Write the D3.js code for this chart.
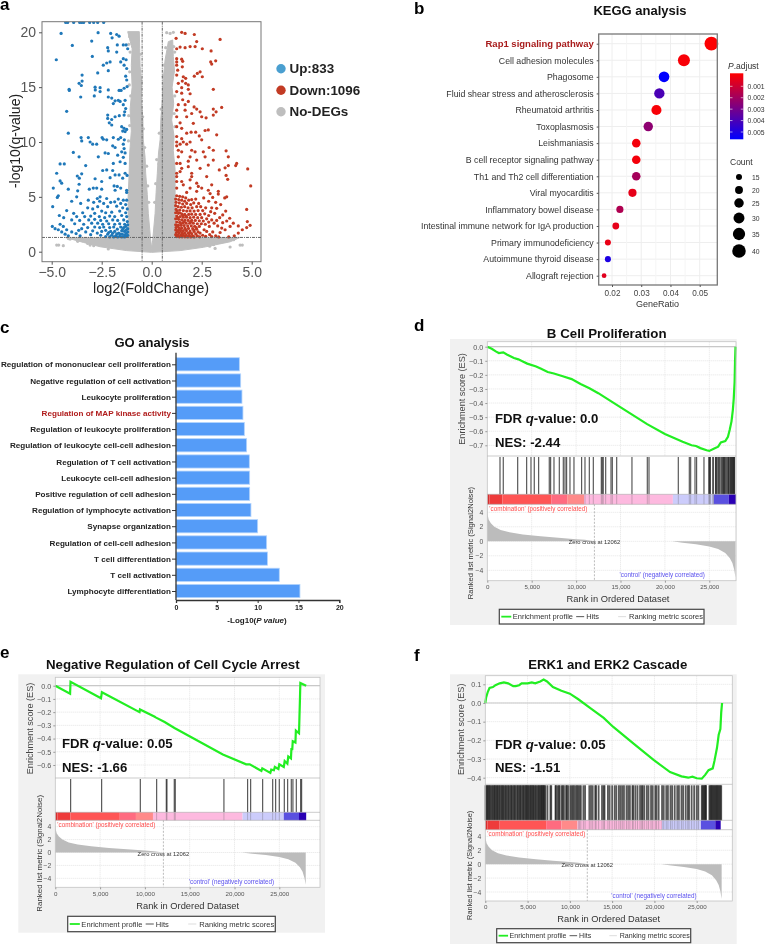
<!DOCTYPE html>
<html>
<head>
<meta charset="utf-8">
<title>Figure</title>
<style>
  body { margin: 0; background: #fff; }
  text { font-family: "Liberation Sans", Arial, sans-serif; }
  svg { filter: blur(0.35px); }
</style>
</head>
<body>
<div id="plot"></div>
<script src="https://cdn.jsdelivr.net/npm/d3@7"></script>
<script>
// a: volcano, values
const upPoints = [[-4.3,20.9],[-4.2,20.9],[-3.9,20.9],[-3.6,20.9],[-3.5,20.9],[-3.4,20.9],[-3.1,20.9],[-2.9,20.9],[-2.7,20.9],[-2.4,20.9],
[-4.53,19.9],[-2.68,19.97],[-2.05,19.9],[-1.75,19.8],[-1.63,19.65],[-1.98,19.5],[-3,19.2],[-3.97,18.8],[-2.2,18.6],[-1.72,18.85],[-1.42,18.85],[-1.28,18.85],[-1.2,18.5],[-1.75,18.2],[-2.17,18.3],[-2.97,17.8],[-4.77,17.5],[-1.42,17.6],[-1.28,17.5],[-1.55,17.3],[-2.08,17.3],[-2.42,17],[-2.25,17.2],[-1.38,17],[-1.25,16.7],[-2.17,16.5],[-2.7,16.3],[-3.48,16.1],[-1.3,16],[-1.25,15.65],[-3.48,15.55],[-3.63,15.35],[-3.52,15.15],[-2.83,15],[-2.58,14.95],[-4.13,14.8],[-4.12,14.7],[-2.17,14.75],[-2.82,14.75],[-2.58,14.6],[-1.63,14.7],[-1.53,14.7],[-1.38,14.9],[-1.23,15.05],[-2.87,14.2],[-3.55,14.1],[-2.17,14.1],[-2,14],[-1.67,13.8],[-1.83,13.75],[-1.58,13.7],[-1.33,13.8],[-1.92,13.5],[-1.42,13.4],[-1.3,13.05],[-1.35,12.75],[-4.25,12.8],[-2.2,12.45],[-1.83,12.3],[-1.62,12.4],[-1.38,12.45],[-2.2,12.15],[-2,12.05],[-2.12,11.75],[-2,11.55],[-1.5,11.4],[-1.38,11.25],[-1.25,11.15],[-1.45,11],[-1.33,10.95],[-4.17,10.8],[-3.53,10.4],[-3.17,10.4],[-2.48,10.4],[-1.92,10.4],[-1.55,10.4],[-3.5,10.1],[-3.08,10],[-2.42,10.25],[-2.25,10.2],[-1.67,10.25],[-1.37,10.2],[-2.95,9.8],[-2.75,9.8],[-1.95,9.65],[-1.83,9.5],[-1.42,9.8],[-1.38,9.4],[-3.92,9.05],[-2.33,9],[-2.17,8.95],[-1.5,9.1],[-1.33,9],[-3.63,8.65],[-2.67,8.65],[-1.7,8.8],[-1.42,8.6],[-4.58,8],[-4.37,8],[-3.3,7.85],[-1.92,8.05],[-1.58,8.2],[-1.33,8.05],[-2.25,7.45],[-2.45,7.4],[-1.95,7.4],[-4.75,7.15],[-3.5,7.1],[-3.72,6.9],[-1.83,7],[-1.63,7],[-1.33,7.15],[-1.23,6.95],[-3.62,6.7],[-2.83,6.65],[-2.08,6.75],[-1.45,6.7],[-4.58,6.45],[-4.5,6.25],[-2.5,6.4],[-3.63,6.15],[-1.88,6],[-1.72,5.95],[-1.55,5.8],[-4.92,5.8],[-4.17,5.7],[-3.7,5.55],[-3.12,5.7],[-2.92,5.8],[-2.75,5.8],[-2.5,5.7],[-1.83,5.6],[-1.25,5.6],[-1.25,5.4],[-4.67,5.1],[-4.72,4.95],[-2.58,5],[-2.72,4.85],[-4,4.6],[-3.75,5],[-3.17,4.7],[-2.25,4.85],[-1.67,4.8],[-1.42,4.7],[-1.25,4.7],
[-4.95,4.1],[-3.55,4.4],[-2.9,4.5],[-2.6,4.6],[-2.4,4.4],[-2.05,4.5],[-1.85,4.55],[-1.55,4.4],[-1.3,4.3],[-4.25,3.75],[-3.2,4],[-2.95,3.9],[-2.7,4.1],[-2.2,4.1],[-1.75,4.15],[-1.45,4],[-1.22,3.9],[-4.62,3.3],[-3.9,3.5],[-3.45,3.55],[-2.85,3.5],[-2.5,3.7],[-2.3,3.55],[-2,3.6],[-1.6,3.7],[-1.3,3.55],[-4.4,3.1],[-3.75,3.2],[-3.35,3.2],[-3.05,3.25],[-2.62,3.2],[-2.35,3.1],[-2.1,3.25],[-1.85,3.2],[-1.5,3.3],[-1.25,3.2],[-4,2.9],[-3.6,2.85],[-3.15,2.9],[-2.85,2.95],[-2.55,2.85],[-2.25,2.8],[-1.95,2.9],[-1.7,2.85],[-1.4,2.9],[-1.22,2.75],[-3.85,2.55],[-3.4,2.5],[-3,2.6],[-2.7,2.6],[-2.45,2.5],[-2.15,2.55],[-1.85,2.5],[-1.6,2.55],[-1.35,2.5],[-1.2,2.45],
[-4.97,2.3],[-4.83,2.1],[-4.67,2],[-4.5,1.8],[-4.33,1.6],[-4.17,1.45],[-4.58,2.5],[-4.42,2.3],[-4.25,2],[-4,1.8],[-3.78,1.65],[-3.58,1.45],[-3.5,2.1],[-3.65,1.95],[-3.2,2.2],[-3.3,1.8],[-3.05,1.55],[-2.85,2.25],[-2.95,1.9],[-2.72,1.7],[-2.6,2.2],[-2.4,2.25],[-2.5,1.85],[-2.55,1.5],[-2.3,1.95],[-2.2,1.6],[-2.1,2.2],[-2.05,1.85],[-2,1.5],[-1.9,2.25],[-1.85,1.85],[-1.8,1.45],[-1.72,2.05],[-1.65,1.7],[-1.6,1.4],[-1.55,2.25],[-1.5,1.9],[-1.47,1.6],[-1.42,1.38],[-1.4,2.2],[-1.36,1.85],[-1.33,1.55],[-1.3,2.3],[-1.28,2],[-1.26,1.7],[-1.24,1.42],[-1.2,2.1],[-1.2,1.8],[-1.2,1.5],[-1.35,1.35],[-1.5,1.35],[-1.7,1.35],[-1.9,1.35],[-2.1,1.35],[-2.3,1.38],[-1.45,2.05],[-1.58,1.6],[-1.75,1.62],[-1.95,1.68],[-2.15,1.75]];
const downPoints = [[1.5,20],[1.67,19.9],[2.13,19.8],[1.22,19.45],[3.42,19.35],[2.25,19.15],[1.92,18.7],[2.17,18.7],[2.53,18.5],[2.97,18.3],[1.42,18.65],[1.25,18.5],[1.67,18.6],[1.25,17.6],[1.5,17.55],[1.55,17.35],[1.25,17.3],[3.2,17.4],[2.95,17.3],[3,17.1],[1.25,17],[1.53,16.85],[1.3,16.55],[2.42,16.4],[2.28,16.25],[2.13,16],[2.53,15.95],[1.25,16.1],[1.58,15.95],[1.7,15.8],[1.53,15.55],[1.7,15.35],[1.33,15.35],[1.83,15.2],[1.5,14.95],[1.83,14.8],[3.08,14.8],[1.25,14.6],[1.5,14.45],[1.92,14.4],[1.55,13.85],[1.83,13.7],[1.33,13.4],[1.67,13.4],[2.12,13.2],[2.25,13],[2.42,12.75],[3.5,13.15],[3.08,13],[3.22,12.75],[3.08,12.45],[1.25,12.9],[1.67,12.9],[1.25,12.3],[2,12.6],[2.5,12.3],[2.72,12.2],[1.75,12.3],[1.42,11.75],[2.08,11.7],[1.5,11.25],[2.83,11.1],[2.67,11.05],[1.25,11.4],[1.75,10.8],[1.97,10.9],[2.2,10.9],[2.38,10.55],[3.25,10.65],[1.25,10.5],[1.5,10.3],[2.5,10.2],[1.25,10],[1.58,10],[1.92,10],[1.25,9.65],[1.42,9.8],[1.75,9.8],[2.87,9.5],[3.08,9.25],[3.72,9.2],[2,9.25],[2.17,9.1],[1.33,9.25],[1.5,9.1],[2.58,9.1],[2.67,8.65],[3.83,8.65],[1.33,8.65],[1.92,8.65],[1.83,8.25],[2.25,8.35],[3.08,8.35],[1.25,8.05],[1.42,8.05],[4.25,8.05],[4.2,7.85],[3.83,7.85],[3.67,7.65],[3.38,7.45],[2.83,7.9],[2.42,7.6],[4.8,7.55],[1.83,7.75],[1.5,7.6],[1.25,7.15],[1.42,7.3],[2,7.15],[2,6.85],[2.75,6.85],[3.72,6.95],[3.8,6.6],[1.25,6.85],[1.5,6.4],[1.25,6.4],[1.92,6.55],[2.25,6.25],[4.95,6],[3,6.1],[1.58,6.1],[2.33,5.95],[2.5,5.8],[1.92,5.8],[2.83,5.6],[1.25,5.8],[3.33,5.5],[3.33,5.25],[2.92,5.3],[1.75,5.4],[2.25,5.5],
[1.25,5.1],[1.4,5.05],[1.55,5],[1.7,4.9],[1.2,4.8],[1.35,4.75],[1.5,4.7],[1.65,4.6],[1.85,4.7],[2,4.75],[2.2,4.8],[2.6,4.9],[3.05,4.95],[3.75,5],[3.65,4.9],[1.22,4.5],[1.38,4.45],[1.55,4.35],[1.75,4.4],[1.95,4.3],[2.1,4.45],[2.35,4.4],[2.85,4.6],[3.2,4.5],[3.45,4.3],[1.2,4.2],[1.32,4.1],[1.48,4.05],[1.65,4.1],[1.82,4],[2.02,4],[2.25,4.1],[2.45,4.1],[2.7,4],[3,4],[3.25,3.95],[3.7,3.7],[4.75,3.85],[1.22,3.85],[1.4,3.8],[1.58,3.75],[1.75,3.7],[1.92,3.72],[2.12,3.7],[2.32,3.75],[2.55,3.75],[2.95,3.65],[3.15,3.5],[3.55,3.35],[1.2,3.55],[1.33,3.5],[1.5,3.45],[1.65,3.4],[1.85,3.4],[2,3.42],[2.2,3.4],[2.42,3.4],[2.65,3.45],[2.85,3.3],[3.4,3.1],[3.9,3.05],[1.25,3.25],[1.42,3.2],[1.58,3.15],[1.75,3.15],[1.92,3.1],[2.1,3.15],[2.3,3.1],[2.5,3.1],[2.75,3],[3,2.9],[3.25,2.85],[3.75,2.8],[1.2,3],[1.35,2.95],[1.5,2.9],[1.66,2.88],[1.82,2.85],[2,2.85],[2.18,2.85],[2.38,2.82],[2.58,2.8],[2.85,2.7],[3.55,2.65],[4.78,2.75],[4.33,2.35],[4.08,2.6],[1.25,2.7],[1.4,2.68],[1.55,2.62],[1.72,2.6],[1.9,2.6],[2.08,2.6],[2.28,2.55],[2.48,2.55],[2.68,2.5],[3.12,2.6],[1.2,2.45],[1.33,2.42],[1.47,2.4],[1.62,2.38],[1.8,2.35],[1.98,2.35],[2.15,2.32],[2.38,2.3],[2.88,2.3],[3.92,2.3],[3.3,2.35],
[1.22,2.2],[1.36,2.18],[1.5,2.15],[1.66,2.15],[1.84,2.12],[2.05,2.1],[2.25,2.05],[2.62,2],[3.67,2],[3.5,2.15],[1.2,1.98],[1.32,1.95],[1.44,1.92],[1.58,1.92],[1.74,1.9],[1.92,1.88],[2.12,1.85],[2.32,1.8],[2.75,1.85],[1.24,1.75],[1.36,1.72],[1.5,1.72],[1.65,1.7],[1.82,1.68],[2,1.65],[2.2,1.62],[2.42,1.7],[3.42,1.75],[3.05,1.8],[1.2,1.55],[1.32,1.52],[1.45,1.52],[1.58,1.5],[1.72,1.5],[1.88,1.48],[2.05,1.45],[2.28,1.45],[2.55,1.5],[3.2,1.45],[2.9,1.55],[1.25,1.38],[1.38,1.36],[1.52,1.36],[1.66,1.36],[1.8,1.35],[1.95,1.35],[2.12,1.35],[2.4,1.36],[2.7,1.4],
[4.92,2.4],[4.75,2.2],[4.53,2],[4.33,1.7],[4.13,1.45],[3.85,1.35],[3.35,1.35],[3,1.38],[1.3,1.85],[1.42,2.05],[1.56,1.62],[1.7,2.02],[1.9,1.75],[1.28,2.32],[1.46,2.55],[1.62,2.75],[1.3,3.1],[1.55,3.3],[1.4,3.55],[1.28,3.7],[1.72,3.25],[1.95,2.72],[2.22,2.2],[2.1,1.98]];
const noDegCloud = [[-1.2,20.06],[-0.62,20.06],[-0.6,18.5],[-0.58,16.9],[-0.5,15.4],[-0.52,13.8],[-0.44,12],[-0.42,10.2],[-0.33,8.6],[-0.3,7.15],[-0.22,5.2],[-0.17,3.5],[-0.05,1.06],[0,0.3],[0.05,1.06],[0.17,3.5],[0.22,5.4],[0.28,7.15],[0.34,9],[0.42,10.2],[0.46,12.2],[0.53,13.8],[0.58,15.8],[0.67,17.5],[0.78,18.6],[0.83,19.15],[1.05,19.3],[1.08,17.8],[1.14,16.5],[1.02,15],[1.1,13.5],[1.0,12],[1.12,10.5],[1.08,9.2],[1.17,7.5],[1.17,1.3],[4.42,1.3],[3.92,0.9],[2.58,0.4],[1.42,0.1],[0,-0.06],[-1.25,0.1],[-2.58,0.45],[-3.42,0.85],[-4.33,1.3],[-1.17,1.3],[-1.18,5],[-1.13,7],[-1.1,9],[-1.02,11],[-1.08,13],[-0.98,15],[-1.02,17],[-0.98,18.5]];
const noDegPoints = [[-4.75,0.6],[-4.65,0.6],[-4.42,0.55],[-2.17,0.25],[3.17,0.3],[3.92,0.43],[4.42,0.6],[4.53,0.6],[-4.08,1.15],[-4.17,1.2],[-3.08,0.6],[0.75,19.97],[1.08,20],[0.92,19.9],[-1.1,19.6],[-1.15,18.9],[-1.08,18.2],[-0.7,11],[-0.35,9.5],[-0.2,6],[0.38,10.8],[0.25,8.4],[0.58,16],[-0.45,12.3],[-0.53,15.5],[0.6,14.9],[0.7,18.6],[4.1,1.1],[3.4,0.85],[-1.1,16.4],[-1.12,15.2],[-1.05,14.2],[-1.15,12.4],[-1.1,11.5],[-1.16,10.1],[1.1,18.7],[1.15,18.2],[1.15,14.2],[1.12,12.6],[1.16,11.4],[-0.55,14.5],[-0.58,18],[-0.42,11.2],[0.36,8],[0.5,11.4],[0.47,13],[0.62,17],[0.2,6.2],[0.15,4.5],[-0.15,4.5],[-0.25,7.8],[-3.7,0.95],[-3.2,0.75],[-2.9,0.55],[3.1,0.65],[3.65,0.95],[2.9,0.5]];
const xTicksA = [-5, -2.5, 0, 2.5, 5];
const yTicksA = [0, 5, 10, 15, 20];
const legendA = [['Up:833', '#4a9fd0'], ['Down:1096', '#c23b24'], ['No-DEGs', '#bebebe']];

// b: KEGG dots
const keggTerms = ['Rap1 signaling pathway','Cell adhesion molecules','Phagosome','Fluid shear stress and atherosclerosis','Rheumatoid arthritis','Toxoplasmosis','Leishmaniasis','B cell receptor signaling pathway','Th1 and Th2 cell differentiation','Viral myocarditis','Inflammatory bowel disease','Intestinal immune network for IgA production','Primary immunodeficiency','Autoimmune thyroid disease','Allograft rejection'];
const keggRatio = [0.054,0.0446,0.0378,0.0362,0.0352,0.0324,0.0283,0.0283,0.0283,0.027,0.0227,0.0213,0.0186,0.0186,0.0173];
const keggCount = [41,34,29,28,27,25,22,22,22,21,18,17,15,15,12];
const keggPadj = [0.0001,0.0002,0.0056,0.004,0.0002,0.0025,0.0003,0.0003,0.002,0.0006,0.0018,0.0006,0.0005,0.005,0.0007];
const padjTicks = [0.001,0.002,0.003,0.004,0.005];
const countTicks = [15,20,25,30,35,40];

// c: GO bars
const goTerms = ['Regulation of mononuclear cell proliferation','Negative regulation of cell activation','Leukocyte proliferation','Regulation of MAP kinase activity','Regulation of leukocyte proliferation','Regulation of leukocyte cell-cell adhesion','Regulation of T cell activation','Leukocyte cell-cell adhesion','Positive regulation of cell adhesion','Regulation of lymphocyte activation','Synapse organization','Regulation of cell-cell adhesion','T cell differentiation','T cell activation','Lymphocyte differentiation'];
const goValues = [7.76,7.92,8.08,8.2,8.37,8.65,8.98,9.02,9.02,9.18,10,11.1,11.2,12.65,15.18];

// d, e, f: GSEA panels
const esD = [[0,0],[500,-0.015],[1000,-0.035],[1300,-0.045],[1800,-0.04],[2200,-0.055],[3000,-0.08],[3500,-0.09],[4000,-0.105],[4500,-0.12],[5500,-0.14],[6000,-0.155],[6800,-0.18],[7500,-0.19],[8500,-0.21],[9500,-0.23],[10500,-0.265],[11500,-0.295],[12500,-0.33],[14000,-0.39],[16000,-0.47],[18000,-0.55],[20000,-0.62],[22000,-0.675],[23000,-0.7],[23500,-0.705],[24000,-0.72],[24700,-0.735],[25000,-0.74],[25500,-0.725],[26000,-0.71],[26300,-0.68],[26800,-0.67],[27100,-0.64],[27300,-0.59],[27500,-0.53],[27650,-0.45],[27750,-0.37],[27850,-0.25],[27900,-0.1],[27950,0]];
const esE = [[0,0],[1650,-0.06],[1700,0.03],[5100,-0.095],[5200,-0.05],[9400,-0.2],[9450,-0.18],[11100,-0.235],[11200,-0.24],[12200,-0.275],[13300,-0.32],[18700,-0.52],[21300,-0.595],[21700,-0.595],[23000,-0.645],[23100,-0.625],[24000,-0.66],[24100,-0.635],[24400,-0.64],[24500,-0.615],[24900,-0.63],[25000,-0.595],[25500,-0.615],[25600,-0.57],[25900,-0.59],[26000,-0.535],[26300,-0.55],[26350,-0.48],[26450,-0.48],[26500,-0.42],[26800,-0.43],[26850,-0.34],[27200,-0.36],[27250,-0.235],[27300,-0.115],[27350,0.02],[28000,0]];
const esF = [[0,0],[100,0.03],[300,0.06],[500,0.08],[900,0.085],[1200,0.095],[1700,0.105],[2200,0.11],[2700,0.105],[3300,0.09],[3600,0.09],[4000,0.095],[4300,0.105],[5000,0.105],[5500,0.11],[5900,0.105],[6500,0.115],[6900,0.125],[7300,0.115],[8000,0.085],[9000,0.065],[10000,0.05],[11000,0.02],[12500,-0.03],[14000,-0.08],[15100,-0.127],[17500,-0.216],[19900,-0.305],[21850,-0.37],[23200,-0.393],[24000,-0.4],[24500,-0.395],[25000,-0.403],[25600,-0.405],[26000,-0.385],[26400,-0.36],[26900,-0.35],[27100,-0.31],[27400,-0.24],[27600,-0.17],[27800,-0.14],[27900,-0.05],[28000,0]];
const hitsD = [1430,1800,3420,4430,4920,5290,5780,6980,7130,7510,8110,8560,8750,8930,9310,9760,10620,11000,11490,11940,12840,12950,13060,13330,13930,14080,14570,16290,18020,18210,21510,22750,22900,23390,23570,24400,24950,25000,25060,25120,25400,25450,25700,25750,25800,25950,26050,26150,26300,26400,26500,26600,26650,26700,26800,26900,27000,27100,27150,27200,27300,27400,27450,27500,27600,27650,27700,27750,27800,27850];
const hitsE = [1710,5170,9490,11310,12390,12460,13280,13390,18820,21460,21800,23140,24260,24590,25000,25560,25930,26340,26520,26900,27380,27490];
const hitsF = [30,120,240,300,420,520,600,760,850,980,1080,1150,1290,1400,1470,1620,1700,1850,1960,2080,2150,2300,2420,2500,2680,2750,2900,3050,3110,3260,3400,3480,3620,3780,3860,4000,4120,4200,4350,4480,4560,4700,4820,4900,5000,5080,5200,5320,5400,5520,5650,5700,5850,5950,6050,6200,6300,6380,6500,6600,6680,6760,6840,6920,7000,7100,7350,7700,7800,8300,8350,8550,8700,8800,9050,9150,9300,9550,9650,9800,10050,10200,10350,10500,10700,10850,11000,11150,11300,11600,11800,12300,12500,12700,13000,13100,13400,13800,14000,14100,14500,14700,15000,15300,15500,15800,16000,16200,16400,16700,16900,17100,17400,17500,17750,18000,18300,18500,18600,18800,19100,19300,19600,19800,20100,20250,20500,20900,21100,21400,21600,21900,22100,22400,22700,22900,23200,23400,23700,23950,24100,24400,24700,25000,25200,25600,25700,25800,25900,26000,26050,26100,26500,26600,26700,26800,26900,27000,27100,27200,27300,27400,27500,27600,27700,27800,27900];
const metricPos = [[0,4.6],[50,3.6],[150,3],[400,2.5],[800,2],[1500,1.55],[2500,1.25],[4000,0.95],[6000,0.7],[8000,0.5],[10000,0.3],[11000,0.2],[12062,0]];
const metricNeg = [[20800,0],[22000,-0.2],[23500,-0.4],[25000,-0.7],[26000,-1.05],[26800,-1.6],[27300,-2.3],[27600,-3],[27800,-3.9],[27950,-5]];
const bandStops = [[0,250,'#d62f2f'],[250,1700,'#ee3b3b'],[1700,7200,'#ff5555'],[7200,9000,'#ff6b80'],[9000,10900,'#ff8a8a'],[10900,20900,'#fdb9df'],[20900,25500,'#ccccfb'],[25500,27200,'#5a50e0'],[27200,28000,'#2a00b4']];
const rankTicks = [0,5000,10000,15000,20000,25000];
const metricTicks = [4,2,0,-2,-4];

const svg = d3.select('#plot').append('svg').attr('width', 766).attr('height', 944);
const defs = svg.append('defs');

function panelLetter(s, x, y) {
  svg.append('text').attr('x', x).attr('y', y).attr('font-size', 17).attr('font-weight', 'bold').text(s);
}
function title(s, cx, y, size) {
  svg.append('text').attr('x', cx).attr('y', y).attr('text-anchor', 'middle').attr('font-size', size).attr('font-weight', 'bold').attr('fill', '#111').text(s);
}

panelLetter('a', 0, 10);
panelLetter('b', 414, 14);
panelLetter('c', 0, 333);
panelLetter('d', 414, 331);
panelLetter('e', 0, 658);
panelLetter('f', 414, 661);

// ---- panel a
{
  const x = d3.scaleLinear().domain([-5, 5]).range([51.7, 251.7]);
  const y = d3.scaleLinear().domain([0, 20]).range([251.7, 32.3]);
  defs.append('clipPath').attr('id', 'clipA').append('rect').attr('x', 42).attr('y', 21.7).attr('width', 219).attr('height', 240);
  const g = svg.append('g');
  const pts = g.append('g').attr('clip-path', 'url(#clipA)');
  pts.append('path').attr('d', d3.line().x(d => x(d[0])).y(d => y(d[1])).curve(d3.curveLinearClosed)(noDegCloud))
    .attr('fill', '#bebebe').attr('stroke', '#bebebe').attr('stroke-width', 1);
  const dots = (data, color) => pts.append('g').selectAll('circle').data(data).join('circle')
    .attr('cx', d => x(d[0])).attr('cy', d => y(d[1])).attr('r', 1.6).attr('fill', color);
  dots(noDegPoints, '#bebebe');
  dots(upPoints, '#1f78b9');
  dots(downPoints, '#c23b24');
  [-0.48, 0.53].forEach(v => g.append('line').attr('x1', x(v)).attr('x2', x(v)).attr('y1', 21.7).attr('y2', 261.7)
    .attr('stroke', '#666').attr('stroke-dasharray', '3 1 1 1'));
  g.append('line').attr('x1', 42).attr('x2', 261).attr('y1', y(1.3)).attr('y2', y(1.3)).attr('stroke', '#666').attr('stroke-dasharray', '3 1 1 1');
  g.append('rect').attr('x', 42).attr('y', 21.7).attr('width', 219).attr('height', 240).attr('fill', 'none').attr('stroke', '#777').attr('stroke-width', 1);
  const ax = g.append('g').attr('transform', 'translate(0,261.7)').call(d3.axisBottom(x).tickValues(xTicksA).tickFormat(d3.format('.1f')).tickSize(3).tickPadding(2));
  const ay = g.append('g').attr('transform', 'translate(42,0)').call(d3.axisLeft(y).tickValues(yTicksA).tickSize(3));
  [ax, ay].forEach(a => {
    a.select('.domain').remove();
    a.selectAll('line').attr('stroke', '#555');
    a.selectAll('text').attr('font-family', 'Liberation Sans').attr('font-size', 14).attr('fill', '#555');
  });
  g.append('text').attr('x', 151).attr('y', 293).attr('text-anchor', 'middle').attr('font-size', 14.5).attr('fill', '#222').text('log2(FoldChange)');
  g.append('text').attr('transform', 'translate(20,141) rotate(-90)').attr('text-anchor', 'middle').attr('font-size', 14).attr('fill', '#222').text('-log10(q-value)');
  const ly = d3.scalePoint().domain(legendA.map(d => d[0])).range([68.7, 111.7]);
  legendA.forEach(d => {
    g.append('circle').attr('cx', 281).attr('cy', ly(d[0])).attr('r', 4.7).attr('fill', d[1]);
    g.append('text').attr('x', 289.5).attr('y', ly(d[0]) + 4.6).attr('font-size', 13.4).attr('font-weight', 'bold').attr('fill', '#222').text(d[0]);
  });
}

// ---- panel b
{
  title('KEGG analysis', 640, 15, 13);
  const x = d3.scaleLinear().domain([0.02, 0.05]).range([612, 699.7]);
  const y = d3.scalePoint().domain(keggTerms).range([43.7, 275.7]);
  const r = d3.scalePow().exponent(0.5).domain([13, 41]).range([2.6, 6.9]);
  const c = d3.scaleLinear().domain([0.00005, 0.0056]).range(['#ff0000', '#0000ff']);
  const g = svg.append('g');
  g.selectAll('.gy').data(keggTerms).join('line').attr('x1', 598.7).attr('x2', 717.3).attr('y1', d => y(d)).attr('y2', d => y(d)).attr('stroke', '#eee');
  g.selectAll('.gx').data([0.02,0.03,0.04,0.05]).join('line').attr('x1', d => x(d)).attr('x2', d => x(d)).attr('y1', 34).attr('y2', 285).attr('stroke', '#eee');
  g.selectAll('.gm').data([0.025,0.035,0.045]).join('line').attr('x1', d => x(d)).attr('x2', d => x(d)).attr('y1', 34).attr('y2', 285).attr('stroke', '#f5f5f5');
  g.selectAll('circle').data(keggTerms).join('circle')
    .attr('cx', (d, i) => x(keggRatio[i])).attr('cy', d => y(d)).attr('r', (d, i) => r(keggCount[i])).attr('fill', (d, i) => c(keggPadj[i]));
  g.append('rect').attr('x', 598.7).attr('y', 34).attr('width', 118.6).attr('height', 251).attr('fill', 'none').attr('stroke', '#777').attr('stroke-width', 1.3);
  const ay = g.append('g').attr('transform', 'translate(598.7,0)').call(d3.axisLeft(y).tickSize(2));
  ay.select('.domain').remove();
  ay.selectAll('line').attr('stroke', '#555');
  ay.selectAll('text').attr('font-family', 'Liberation Sans').attr('font-size', (d, i) => i === 0 ? 9.5 : 8.75).attr('fill', (d, i) => i === 0 ? '#a81c1c' : '#333').attr('font-weight', (d, i) => i === 0 ? 'bold' : 'normal');
  const ax = g.append('g').attr('transform', 'translate(0,285)').call(d3.axisBottom(x).tickValues([0.02,0.03,0.04,0.05]).tickFormat(d3.format('.2f')).tickSize(2));
  ax.select('.domain').remove();
  ax.selectAll('line').attr('stroke', '#555');
  ax.selectAll('text').attr('font-family', 'Liberation Sans').attr('font-size', 8.2).attr('fill', '#444');
  g.append('text').attr('x', 657.5).attr('y', 307).attr('text-anchor', 'middle').attr('font-size', 9).attr('fill', '#333').text('GeneRatio');

  // colour bar
  const grad = defs.append('linearGradient').attr('id', 'padj').attr('x1', 0).attr('x2', 0).attr('y1', 0).attr('y2', 1);
  grad.append('stop').attr('offset', 0).attr('stop-color', '#ff0000');
  grad.append('stop').attr('offset', 1).attr('stop-color', '#0000ff');
  const t = g.append('text').attr('x', 728).attr('y', 69).attr('font-size', 8.5).attr('fill', '#333');
  t.append('tspan').attr('font-style', 'italic').text('P');
  t.append('tspan').text('.adjust');
  g.append('rect').attr('x', 730).attr('y', 73.3).attr('width', 13.3).attr('height', 66).attr('fill', 'url(#padj)');
  const py = d3.scaleLinear().domain([0.001, 0.005]).range([86.3, 132]);
  padjTicks.forEach(v => {
    g.append('line').attr('x1', 730).attr('x2', 732.5).attr('y1', py(v)).attr('y2', py(v)).attr('stroke', '#fff').attr('stroke-width', 0.6);
    g.append('line').attr('x1', 740.8).attr('x2', 743.3).attr('y1', py(v)).attr('y2', py(v)).attr('stroke', '#fff').attr('stroke-width', 0.6);
    g.append('text').attr('x', 747.5).attr('y', py(v) + 2.5).attr('font-size', 6.8).attr('fill', '#333').text(d3.format('.3f')(v));
  });
  g.append('text').attr('x', 730).attr('y', 165).attr('font-size', 8.5).attr('fill', '#333').text('Count');
  const cy = d3.scaleOrdinal().domain(countTicks).range([177, 190, 203, 218, 234, 251]);
  countTicks.forEach(v => {
    g.append('circle').attr('cx', 739).attr('cy', cy(v)).attr('r', r(v)).attr('fill', '#000');
    g.append('text').attr('x', 752).attr('y', cy(v) + 2.5).attr('font-size', 6.8).attr('fill', '#333').text(v);
  });
}

// ---- panel c
{
  title('GO analysis', 152, 347, 13);
  const x = d3.scaleLinear().domain([0, 20]).range([176, 339.3]);
  const y = d3.scalePoint().domain(goTerms).range([364.3, 591]);
  const g = svg.append('g');
  g.selectAll('rect').data(goTerms).join('rect')
    .attr('x', x(0)).attr('y', d => y(d) - 6.6).attr('height', 13.2).attr('width', (d, i) => x(goValues[i]) - x(0))
    .attr('fill', '#559cf8').attr('stroke', '#b5d5fd').attr('stroke-width', 0.8);
  const ay = g.append('g').attr('transform', 'translate(176,0)').call(d3.axisLeft(y).tickSize(4).tickPadding(1));
  ay.select('.domain').attr('d', 'M0,352.7V600').attr('stroke', '#333').attr('stroke-width', 1.3);
  ay.selectAll('line').attr('stroke', '#333').attr('stroke-width', 1);
  ay.selectAll('text').attr('font-family', 'Liberation Sans').attr('font-size', 8.1).attr('font-weight', 'bold').attr('fill', (d, i) => i === 3 ? '#b01c1c' : '#222');
  const ax = g.append('g').attr('transform', 'translate(0,600)').call(d3.axisBottom(x).tickValues([0,5,10,15,20]).tickSize(3).tickPadding(2));
  ax.select('.domain').attr('stroke', '#333').attr('stroke-width', 1.3);
  ax.selectAll('line').attr('stroke', '#333');
  ax.selectAll('text').attr('font-family', 'Liberation Sans').attr('font-size', 7).attr('font-weight', 'bold').attr('fill', '#222');
  const t = g.append('text').attr('x', 257).attr('y', 622.7).attr('text-anchor', 'middle').attr('font-size', 8).attr('font-weight', 'bold').attr('fill', '#222');
  t.append('tspan').text('-Log10(');
  t.append('tspan').attr('font-style', 'italic').text('P value');
  t.append('tspan').text(')');
}

// ---- panels d, e, f
function gsea(o) {
  const g = svg.append('g');
  g.append('rect').attr('x', o.bg[0]).attr('y', o.bg[1]).attr('width', o.bg[2] - o.bg[0]).attr('height', o.bg[3] - o.bg[1]).attr('fill', '#f1f1f1');
  const L = o.left, R = o.right;
  g.append('rect').attr('x', L).attr('y', o.top).attr('width', R - L).attr('height', o.rankBottom - o.top).attr('fill', '#fff');
  const x = d3.scaleLinear().domain([0, 25000]).range([L, o.x25k]);
  const es = d3.scaleLinear().domain(o.esRef).range(o.esPix);
  const m = d3.scaleLinear().domain([4, -4]).range(o.metricPix);

  // grids
  const grid = (vals, f, y1, y2) => vals.forEach(v => {
    if (f === 'x') g.append('line').attr('x1', x(v)).attr('x2', x(v)).attr('y1', y1).attr('y2', y2).attr('stroke', '#e4e4e4').attr('stroke-dasharray', '1 1');
    else g.append('line').attr('x1', L).attr('x2', R).attr('y1', v).attr('y2', v).attr('stroke', '#e4e4e4').attr('stroke-dasharray', '1 1');
  });
  grid(rankTicks.slice(1), 'x', o.top, o.esBottom);
  grid(rankTicks.slice(1), 'x', o.bandBottom, o.rankBottom);
  grid(o.esTicks.map(es), 'y');
  grid(metricTicks.map(m), 'y');

  // enrichment curve
  g.append('line').attr('x1', L).attr('x2', R).attr('y1', es(0)).attr('y2', es(0)).attr('stroke', '#c8c8c8').attr('stroke-width', 1.2);
  g.append('path').attr('d', d3.line().x(d => x(d[0])).y(d => es(d[1]))(o.esData)).attr('fill', 'none').attr('stroke', '#22ee22').attr('stroke-width', 2.2);

  // hits
  g.selectAll('.hit').data(o.hits).join('line').attr('x1', d => x(d)).attr('x2', d => x(d)).attr('y1', o.esBottom + 1).attr('y2', o.hitBottom)
    .attr('stroke', '#222').attr('stroke-width', o.hitWidth).attr('stroke-opacity', o.hitOpacity);

  // colour band
  g.selectAll('.band').data(bandStops).join('rect').attr('x', d => x(d[0])).attr('width', d => Math.min(x(d[1]), o.bandEnd) - x(d[0])).attr('y', o.hitBottom).attr('height', o.bandBottom - o.hitBottom).attr('fill', d => d[2]);
  g.selectAll('.hit2').data(o.hits.filter(d => d > 10900 && d < 25500)).join('line').attr('x1', d => x(d)).attr('x2', d => x(d)).attr('y1', o.hitBottom).attr('y2', o.bandBottom).attr('stroke', '#555').attr('stroke-opacity', 0.3);

  // metric area
  const area = d3.area().x(d => x(d[0])).y0(m(0)).y1(d => m(d[1]));
  g.append('path').attr('d', area(metricPos)).attr('fill', '#bcbcbc');
  g.append('path').attr('d', area(metricNeg)).attr('fill', '#bcbcbc');
  g.append('line').attr('x1', x(12062)).attr('x2', x(12062)).attr('y1', o.bandBottom).attr('y2', o.rankBottom).attr('stroke', '#bbb').attr('stroke-dasharray', '2 1.5');
  g.append('text').attr('x', x(12062)).attr('y', m(0) + 3).attr('text-anchor', 'middle').attr('font-size', 5.8).attr('fill', '#333').text('Zero cross at 12062');
  g.append('text').attr('x', L + 2).attr('y', o.bandBottom + 6.5).attr('font-size', 6.3).attr('fill', '#ff4d4d').text("'combination' (positively correlated)");
  g.append('text').attr('x', x(14900)).attr('y', o.rankBottom - 3.5).attr('font-size', 6.3).attr('fill', '#5a50ee').text("'control' (negatively correlated)");

  // frames
  g.append('rect').attr('x', L).attr('y', o.top).attr('width', R - L).attr('height', o.rankBottom - o.top).attr('fill', 'none').attr('stroke', '#c4c4c4').attr('stroke-width', 0.8);
  [o.esBottom, o.hitBottom, o.bandBottom].forEach(v => g.append('line').attr('x1', L).attr('x2', R).attr('y1', v).attr('y2', v).attr('stroke', '#aaa').attr('stroke-width', 0.6));

  // axes
  const ay = g.append('g').attr('transform', `translate(${L},0)`).call(d3.axisLeft(es).tickValues(o.esTicks).tickFormat(d3.format('.1f')).tickSize(2).tickPadding(2));
  const my = g.append('g').attr('transform', `translate(${L},0)`).call(d3.axisLeft(m).tickValues(metricTicks).tickFormat(d3.format('d')).tickSize(0).tickPadding(4));
  const ax = g.append('g').attr('transform', `translate(0,${o.rankBottom})`).call(d3.axisBottom(x).tickValues(rankTicks).tickFormat(d3.format(',')).tickSize(2).tickPadding(2));
  [ay, my, ax].forEach(a => {
    a.select('.domain').remove();
    a.selectAll('line').attr('stroke', '#999');
    a.selectAll('text').attr('font-family', 'Liberation Sans').attr('fill', '#555').attr('font-size', 6.2);
  });
  ay.selectAll('text').attr('font-size', 7.2);
  my.selectAll('text').attr('font-size', 6.8);
  g.append('text').attr('transform', `translate(${o.esLabelX},${o.esLabelY}) rotate(-90)`).attr('text-anchor', 'middle').attr('font-size', 9.1).attr('fill', '#444').text('Enrichment score (ES)');
  g.append('text').attr('transform', `translate(${o.metricLabelX},${o.metricLabelY}) rotate(-90)`).attr('text-anchor', 'middle').attr('font-size', o.metricSize).attr('fill', '#333').text('Ranked list metric (Signal2Noise)');
  g.append('text').attr('x', o.rankLabel[0]).attr('y', o.rankLabel[1]).attr('text-anchor', 'middle').attr('font-size', 9.3).attr('fill', '#333').text('Rank in Ordered Dataset');

  // legend
  const [lx, ly, lw, lh] = o.legend;
  const k = lw / 205;
  const lf = 7.5 * k;
  g.append('rect').attr('x', lx).attr('y', ly).attr('width', lw).attr('height', lh).attr('fill', '#fff').attr('stroke', '#444').attr('stroke-width', 1.2);
  const my2 = ly + lh / 2;
  g.append('line').attr('x1', lx + 2 * k).attr('x2', lx + 12 * k).attr('y1', my2).attr('y2', my2).attr('stroke', '#22ee22').attr('stroke-width', 1.8);
  g.append('text').attr('x', lx + 13.5 * k).attr('y', my2 + 2.7).attr('font-size', lf).attr('fill', '#333').text('Enrichment profile');
  g.append('line').attr('x1', lx + 77 * k).attr('x2', lx + 85 * k).attr('y1', my2).attr('y2', my2).attr('stroke', '#555').attr('stroke-width', 1);
  g.append('text').attr('x', lx + 87 * k).attr('y', my2 + 2.7).attr('font-size', lf).attr('fill', '#333').text('Hits');
  g.append('line').attr('x1', lx + 119 * k).attr('x2', lx + 127 * k).attr('y1', my2).attr('y2', my2).attr('stroke', '#ddd').attr('stroke-width', 1);
  g.append('text').attr('x', lx + 130 * k).attr('y', my2 + 2.7).attr('font-size', lf).attr('fill', '#333').text('Ranking metric scores');

  // stats
  const fdr = g.append('text').attr('x', o.statX).attr('y', o.fdrY).attr('font-size', 13.2).attr('font-weight', 'bold').attr('fill', '#111');
  fdr.append('tspan').text('FDR ');
  fdr.append('tspan').attr('font-style', 'italic').text('q');
  fdr.append('tspan').text('-value: ' + o.fdr);
  g.append('text').attr('x', o.statX).attr('y', o.nesY).attr('font-size', 13.2).attr('font-weight', 'bold').attr('fill', '#111').text('NES: ' + o.nes);
  title(o.name, o.titleX, o.titleY, o.titleSize);
}

gsea({
  name: 'B Cell Proliferation', titleX: 606.7, titleY: 338, titleSize: 13.3,
  bg: [450, 339, 736.7, 625], left: 487.3, right: 736, x25k: 709.3, top: 341.7, esBottom: 456, hitBottom: 494.3, bandBottom: 504.3, rankBottom: 580.7,
  bandEnd: 736, esRef: [0, -0.7], esPix: [346.7, 445.3], esTicks: [0,-0.1,-0.2,-0.3,-0.4,-0.5,-0.6,-0.7], metricPix: [512.3, 570.3],
  esData: esD, hits: hitsD, hitWidth: 1.2, hitOpacity: 0.75, fdr: '0.0', nes: '-2.44', statX: 495, fdrY: 423.3, nesY: 446.7,
  legend: [499.3, 609.3, 204.7, 14.7], esLabelX: 465, esLabelY: 399, metricLabelX: 473, metricLabelY: 543, metricSize: 7.6, rankLabel: [618, 601.7]
});
gsea({
  name: 'Negative Regulation of Cell Cycle Arrest', titleX: 172.8, titleY: 668.7, titleSize: 13.3,
  bg: [18.3, 674.3, 325, 932.7], left: 55.3, right: 320, x25k: 279.3, top: 677.3, esBottom: 778, hitBottom: 812.3, bandBottom: 820.3, rankBottom: 887.3,
  bandEnd: 307.3, esRef: [0, -0.6], esPix: [685.7, 765], esTicks: [0,-0.1,-0.2,-0.3,-0.4,-0.5,-0.6], metricPix: [826.7, 878.3],
  esData: esE, hits: hitsE, hitWidth: 1.2, hitOpacity: 0.75, fdr: '0.05', nes: '-1.66', statX: 62, fdrY: 748, nesY: 772,
  legend: [67.7, 916.3, 207.6, 15.4], esLabelX: 33, esLabelY: 728.5, metricLabelX: 41.7, metricLabelY: 853.3, metricSize: 7.9, rankLabel: [187.7, 908.7]
});
gsea({
  name: 'ERK1 and ERK2 Cascade', titleX: 607.7, titleY: 669, titleSize: 13.2,
  bg: [450, 674.3, 736.7, 944], left: 485.3, right: 732.3, x25k: 696.7, top: 675.7, esBottom: 784.3, hitBottom: 820.3, bandBottom: 829.7, rankBottom: 901,
  bandEnd: 720.7, esRef: [0.1, -0.4], esPix: [684.3, 777.7], esTicks: [0.1,0,-0.1,-0.2,-0.3,-0.4], metricPix: [836.3, 892],
  esData: esF, hits: hitsF, hitWidth: 1.8, hitOpacity: 0.75, fdr: '0.05', nes: '-1.51', statX: 495, fdrY: 748.7, nesY: 772,
  legend: [496.7, 928.7, 194, 14], esLabelX: 464, esLabelY: 729.3, metricLabelX: 471.7, metricLabelY: 865.3, metricSize: 7.4, rankLabel: [608.7, 921.7]
});
</script>
</body>
</html>
